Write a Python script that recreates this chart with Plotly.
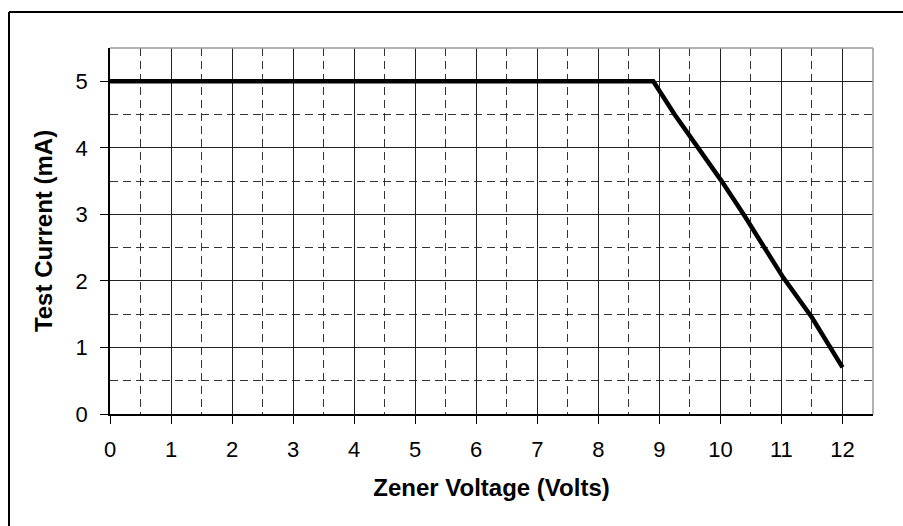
import plotly.graph_objects as go

# Data
zener_voltage = [0, 1, 2, 3, 4, 5, 6, 7, 8, 8.9, 9.25, 9.63, 10.02, 10.4, 10.73, 11.03, 11.5, 12.0]
test_current = [5, 5, 5, 5, 5, 5, 5, 5, 5, 5, 4.5, 4.0, 3.5, 2.97, 2.5, 2.05, 1.45, 0.7]
x_ticks = list(range(0, 13))
y_ticks = list(range(0, 6))

FONT = "Liberation Sans, Arial, sans-serif"

fig = go.Figure()
fig.add_trace(go.Scatter(
    x=zener_voltage, y=test_current, mode="lines",
    line=dict(color="black", width=4.5), showlegend=False, hoverinfo="skip",
))

L, R, T, B = 110, 30, 48, 112
W, H = 903, 526
pw, ph = W - L - R, H - T - B

fig.update_layout(
    width=W, height=H,
    margin=dict(l=L, r=R, t=T, b=B, pad=0),
    paper_bgcolor="white", plot_bgcolor="white",
    font=dict(family=FONT, color="black"),
    xaxis=dict(
        range=[0, 12.5], tickvals=x_ticks, ticktext=[str(v) for v in x_ticks],
        showgrid=True, gridcolor="#222", gridwidth=1,
        minor=dict(dtick=0.5, tick0=0, showgrid=True, gridcolor="#333", griddash="8px,5px", gridwidth=1),
        showline=True, linecolor="black", linewidth=1.5,
        ticks="outside", ticklen=8, tickcolor="black", tickwidth=1,
        tickfont=dict(size=22), ticklabelstandoff=7,
        title=dict(text="<b>Zener Voltage (Volts)</b>", font=dict(size=24), standoff=18),
        zeroline=False, fixedrange=True,
    ),
    yaxis=dict(
        range=[0, 5.5], tickvals=y_ticks, ticktext=[str(v) for v in y_ticks],
        showgrid=True, gridcolor="#222", gridwidth=1,
        minor=dict(dtick=0.5, tick0=0, showgrid=True, gridcolor="#333", griddash="8px,5px", gridwidth=1),
        showline=True, linecolor="black", linewidth=1.5,
        ticks="outside", ticklen=8, tickcolor="black", tickwidth=1,
        tickfont=dict(size=22), ticklabelstandoff=8,
        title=dict(text="<b>Test Current (mA)</b>", font=dict(size=24), standoff=16),
        zeroline=False, fixedrange=True,
    ),
    shapes=[
        # gray top and right plot border
        dict(type="line", xref="paper", yref="paper", x0=0, x1=1, y0=1, y1=1,
             line=dict(color="#999", width=1.5), layer="above"),
        dict(type="line", xref="paper", yref="paper", x0=1, x1=1, y0=0, y1=1,
             line=dict(color="#999", width=1.5), layer="above"),
        # outer chart border (left and top visible)
        dict(type="line", xref="paper", yref="paper",
             x0=(9 - L) / pw, x1=(9 - L) / pw, y0=(H - B - H - 10) / ph, y1=(H - B - 12) / ph,
             line=dict(color="black", width=2)),
        dict(type="line", xref="paper", yref="paper",
             x0=(9 - L) / pw, x1=(W + 10 - L) / pw, y0=(H - B - 12) / ph, y1=(H - B - 12) / ph,
             line=dict(color="black", width=2)),
    ],
)

fig.write_html(
    "out.html",
    config={"displayModeBar": False},
    post_script="document.body.style.margin='0';document.body.style.overflow='hidden';",
)
